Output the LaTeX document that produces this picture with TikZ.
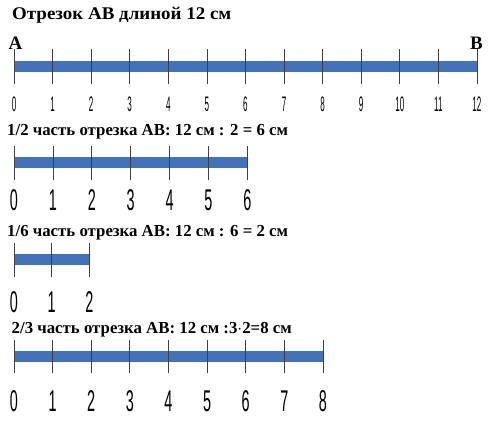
\documentclass[tikz,border=0pt]{standalone}
\usepackage{fontspec}
\setmainfont{Liberation Serif}
\newfontfamily\digitfont{Liberation Sans}
\usetikzlibrary{positioning}
\definecolor{barblue}{RGB}{66,114,186}
\tikzset{
        % Headings above each line
        seg_title/.style={anchor=base west, inner sep=0pt, font=\bfseries\fontsize{16.8}{18}\selectfont},
        seg_title_wide/.style={seg_title, font=\bfseries\fontsize{17.8}{19}\selectfont, xscale=1.065},
        % End letters A and B
        seg_end/.style={inner sep=0pt, font=\bfseries\fontsize{19}{20}\selectfont},
        % Blue segment
        seg_bar/.style={draw=barblue, line width=11pt},
        % Tick marks
        seg_tick/.style={draw=black!75, line width=0.8pt},
        % Digits under the ticks
        seg_num/.style={inner sep=0pt, font=\digitfont\fontsize{30}{30}\selectfont, xscale=0.48},
        seg_num_small/.style={seg_num, font=\digitfont\fontsize{21}{21}\selectfont, xscale=0.8}
}

\begin{document}
\begin{tikzpicture}[x=1pt, y=-1pt]
    \useasboundingbox (0,0) rectangle (500,423);

    % whole segment AB
    \node[seg_title_wide] (t1) at (12,19.5) {Отрезок АВ длиной 12 см};
    \node[seg_end] (A) at (15.5,43.5) {A};
    \node[seg_end] (B) at (476.5,43.5) {B};
    \coordinate (s1) at (14,66.5);
    \coordinate (e1) at (477,66.5);
    \draw[seg_bar] (s1) -- (e1);
    \foreach \i in {0,...,12} {
        \coordinate (u1-\i) at ({14+38.58*\i},49);
        \coordinate (d1-\i) at ({14+38.58*\i},84);
        \draw[seg_tick] (u1-\i) -- (d1-\i);
        \node[seg_num_small] (n1-\i) at ({14+38.58*\i},104) {\i};
    }

    % one half
    \node[seg_title] (t2) at (7,135) {1/2 часть отрезка АВ: 12 см : 2 = 6 см};
    \coordinate (s2) at (14,162.5);
    \coordinate (e2) at (247.5,162.5);
    \draw[seg_bar] (s2) -- (e2);
    \foreach \i in {0,...,6} {
        \coordinate (u2-\i) at ({14+38.9*\i},146);
        \coordinate (d2-\i) at ({14+38.9*\i},180);
        \draw[seg_tick] (u2-\i) -- (d2-\i);
        \node[seg_num] (n2-\i) at ({14+38.9*\i},200) {\i};
    }

    % one sixth
    \node[seg_title] (t3) at (7,236.5) {1/6 часть отрезка АВ: 12 см : 6 = 2 см};
    \coordinate (s3) at (14,259);
    \coordinate (e3) at (89.5,259);
    \draw[seg_bar] (s3) -- (e3);
    \foreach \i in {0,...,2} {
        \coordinate (u3-\i) at ({14+37.75*\i},243);
        \coordinate (d3-\i) at ({14+37.75*\i},277);
        \draw[seg_tick] (u3-\i) -- (d3-\i);
        \node[seg_num] (n3-\i) at ({14+37.75*\i},302) {\i};
    }

    % two thirds
    \node[seg_title] (t4) at (11.5,333) {2/3 часть отрезка АВ: 12 см :3$\cdot$2=8 см};
    \coordinate (s4) at (14,356);
    \coordinate (e4) at (323,356);
    \draw[seg_bar] (s4) -- (e4);
    \foreach \i in {0,...,8} {
        \coordinate (u4-\i) at ({14+38.62*\i},340);
        \coordinate (d4-\i) at ({14+38.62*\i},373);
        \draw[seg_tick] (u4-\i) -- (d4-\i);
        \node[seg_num] (n4-\i) at ({14+38.62*\i},401) {\i};
    }
\end{tikzpicture}
\end{document}
